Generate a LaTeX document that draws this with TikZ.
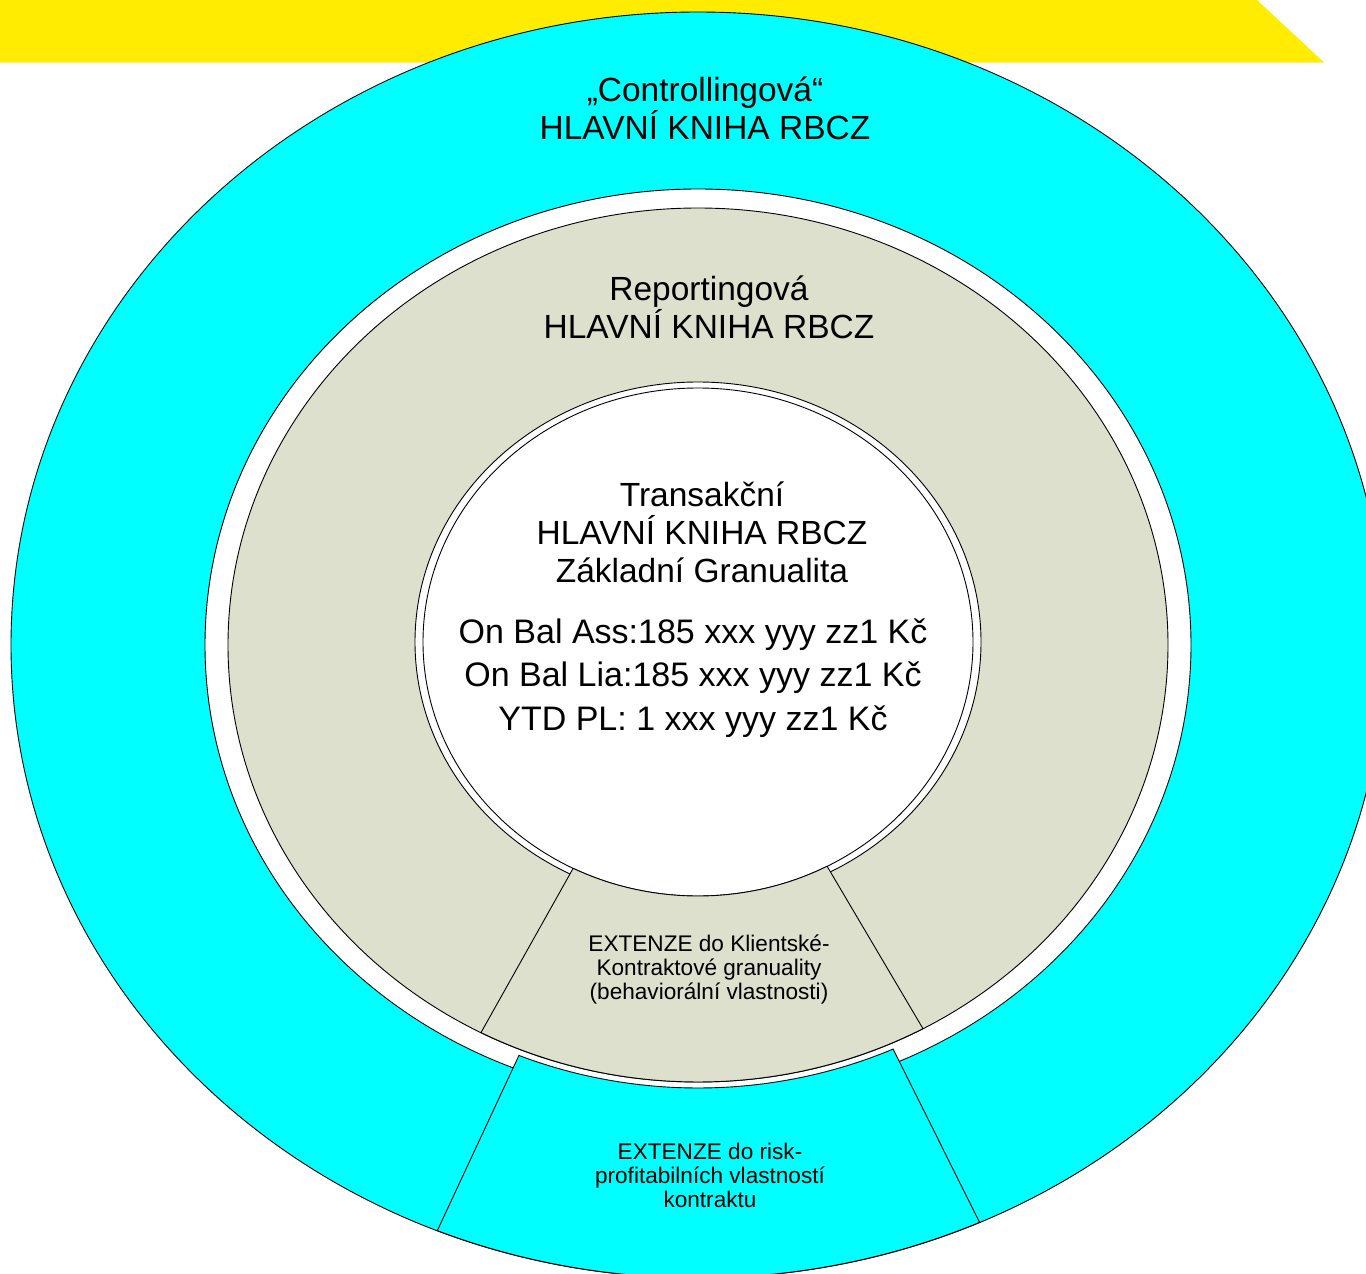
\documentclass[tikz,border=0pt]{standalone}
\usepackage{fontspec}
\setmainfont{Liberation Sans}
\usepackage{tikz}

\definecolor{bandyellow}{RGB}{255,236,0}
\definecolor{ledgercyan}{RGB}{0,255,255}
\definecolor{ledgergray}{RGB}{221,224,204}

\tikzset{
  ring/.style={draw=black, line width=0.9pt},
  biglbl/.style={font=\fontsize{33.5}{38}\selectfont, align=center, inner sep=0pt},
  smalllbl/.style={font=\fontsize{22.6}{24}\selectfont, align=center, inner sep=0pt}
}

\begin{document}
\begin{tikzpicture}[x=1pt,y=1pt]
            \useasboundingbox (0,0) rectangle (1366,-1274);
            \clip (0,0) rectangle (1366,-1274);

            \coordinate (mid) at (698,-645);
            \coordinate (core) at (698,-642);

            \fill[bandyellow] (0,0) -- (1257,0) -- (1324,-62.5) -- (0,-62.5) -- cycle;

            \filldraw[ring, fill=ledgercyan] (mid) ellipse[x radius=687pt, y radius=633pt];
            \filldraw[ring, fill=white] (mid) ellipse[x radius=493pt, y radius=456pt];
            \filldraw[ring, fill=ledgergray] (mid) ellipse[x radius=470pt, y radius=437pt];
            \filldraw[ring, fill=white] (core) ellipse[x radius=283pt, y radius=260pt];
            \draw[ring] (core) ellipse[x radius=275pt, y radius=254pt];

            \coordinate (kl) at ([shift={(243:275pt and 254pt)}]core);
            \coordinate (kr) at ([shift={(298.6:470pt and 437pt)}]mid);
            \filldraw[ring, fill=ledgergray] (kl)
                arc[start angle=243, end angle=298, x radius=275pt, y radius=254pt]
                -- (kr)
                arc[start angle=298.6, end angle=242.5, x radius=470pt, y radius=437pt]
                -- cycle;

            \coordinate (rl) at ([shift={(247.9:476pt and 443pt)}]mid);
            \coordinate (rr) at ([shift={(294.2:687pt and 633pt)}]mid);
            \filldraw[ring, fill=ledgercyan] (rl)
                arc[start angle=247.9, end angle=294.2, x radius=476pt, y radius=443pt]
                -- (rr)
                arc[start angle=294.2, end angle=247.7, x radius=687pt, y radius=633pt]
                -- cycle;

            \node[biglbl] (ctrl) at (705,-108.5) {„Controllingová“\\HLAVNÍ KNIHA RBCZ};
            \node[biglbl] (rep) at (709,-307.5) {Reportingová\\HLAVNÍ KNIHA RBCZ};
            \node[biglbl] (trans) at (702,-532) {Transakční\\HLAVNÍ KNIHA RBCZ\\Základní Granualita};
            \node[biglbl, font=\fontsize{34}{43.5}\selectfont] (vals) at (693,-678)
                {On Bal Ass:185 xxx yyy zz1 Kč\\On Bal Lia:185 xxx yyy zz1 Kč\\YTD PL: 1 xxx yyy zz1 Kč};
            \node[smalllbl] (extklient) at (709,-970) {EXTENZE do Klientské-\\Kontraktové granuality\\(behaviorální vlastnosti)};
            \node[smalllbl] (extrisk) at (710,-1175) {EXTENZE do risk-\\profitabilních vlastností\\kontraktu};
        \end{tikzpicture}
\end{document}
